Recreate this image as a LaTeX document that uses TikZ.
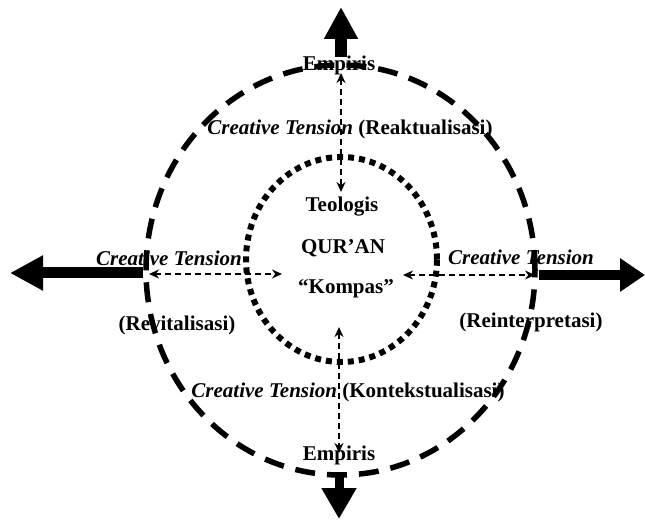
\documentclass[tikz,border=0pt]{standalone}
\usepackage{fontspec}
\setmainfont{Liberation Serif}
\usetikzlibrary{arrows.meta}
\begin{document}
\begin{tikzpicture}[x=1pt,y=-1pt,
  lbl/.style={font=\fontsize{21}{25}\selectfont\bfseries, anchor=base, inner sep=0pt},
  outerring/.style={line width=5.5pt, dash pattern=on 20pt off 12pt},
  innerring/.style={line width=6pt, dash pattern=on 6pt off 5pt},
  link/.style={line width=1.5pt, dash pattern=on 6pt off 4pt,
    {Stealth[length=10pt,width=9pt]}-{Stealth[length=10pt,width=9pt]}},
  push/.style n args={3}{line width=#1, -{Triangle[length=#2,width=#3]}}
]
\useasboundingbox (0,0) rectangle (645,521);

% labels
\node[lbl] (empT) at (339,71) {Empiris};
\node[lbl] (ctT) at (350,135) {\itshape Creative Tension\/\upshape{} (Reaktualisasi)};
\node[lbl] (teo) at (342,212) {Teologis};
\node[lbl] (quran) at (343,254) {QUR’AN};
\node[lbl] (kompas) at (346,294) {“Kompas”};
\node[lbl] (ctL) at (169,266) {\itshape Creative Tension};
\node[lbl] (revit) at (177,330) {(Revitalisasi)};
\node[lbl] (ctR) at (521,265) {\itshape Creative Tension};
\node[lbl] (reint) at (531,327) {(Reinterpretasi)};
\node[lbl] (ctB) at (348,397) {\itshape Creative Tension\/\upshape{} (Kontekstualisasi)};
\node[lbl] (empB) at (339,460) {Empiris};

% rings
\coordinate (O) at (340.5,270);
\coordinate (I) at (341.5,259.5);
\draw[outerring] (O) ellipse [x radius=194.5pt, y radius=205pt];
\draw[innerring] (I) ellipse [x radius=95.5pt, y radius=102.5pt];

% end points of the dashed links
\coordinate (tA) at (341,73);
\coordinate (tB) at (341,192);
\coordinate (lA) at (149,274);
\coordinate (lB) at (282,274);
\coordinate (rA) at (403,275);
\coordinate (rB) at (535,275);
\coordinate (bA) at (339,327);
\coordinate (bB) at (339,453);
\draw[link] (tA) -- (tB);
\draw[link] (lA) -- (lB);
\draw[link] (rA) -- (rB);
\draw[link] (bA) -- (bB);

% outward arrows
\coordinate (upS) at (341,57);
\coordinate (upT) at (341,7);
\coordinate (dnS) at (339,474);
\coordinate (dnT) at (339,519);
\coordinate (lfS) at (143,273);
\coordinate (lfT) at (10,273);
\coordinate (rtS) at (539,275);
\coordinate (rtT) at (645,275);
\draw[push={12pt}{32pt}{32pt}] (upS) -- (upT);
\draw[push={9pt}{31pt}{33pt}] (dnS) -- (dnT);
\draw[push={11pt}{33pt}{33pt}] (lfS) -- (lfT);
\draw[push={10pt}{25pt}{32pt}] (rtS) -- (rtT);
\end{tikzpicture}
\end{document}
